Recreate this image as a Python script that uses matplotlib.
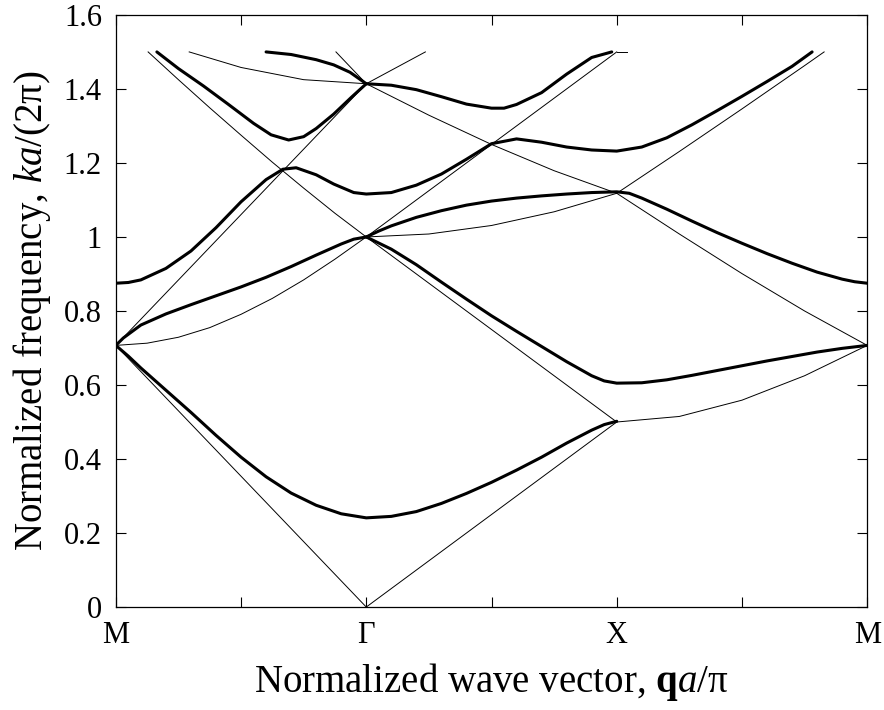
import matplotlib
matplotlib.use("Agg")
import matplotlib.pyplot as plt

plt.rcParams['font.family'] = ['Liberation Serif', 'DejaVu Serif']
plt.rcParams['mathtext.fontset'] = 'custom'
plt.rcParams['mathtext.rm'] = 'Liberation Serif'
plt.rcParams['mathtext.it'] = 'Liberation Serif:italic'
plt.rcParams['mathtext.bf'] = 'Liberation Serif:bold'

# path position: M=0, Gamma=1, X=2, M=3
tick_pos = [0, 0.5, 1, 1.5, 2, 2.5, 3]
tick_labels = ['M', '', 'Γ', '', 'X', '', 'M']

# thin lines (empty lattice)
thin_lines = [
    ([0, 1], [0.707, 0.0]),
    ([0, 0.125, 0.25, 0.375, 0.5, 0.625, 0.75, 0.875, 1],
     [0.707, 0.713, 0.729, 0.755, 0.791, 0.834, 0.884, 0.94, 1.0]),
    ([0, 1], [0.707, 1.414]),
    ([0.129, 0.25, 0.375, 0.5, 0.625, 0.75, 0.875, 1],
     [1.5, 1.425, 1.349, 1.275, 1.202, 1.132, 1.064, 1.0]),
    ([0.293, 0.5, 0.75, 1], [1.5, 1.458, 1.425, 1.414]),
    ([0.879, 1], [1.5, 1.414]),
    ([1, 2], [0.0, 0.5]),
    ([1, 2], [1.0, 0.5]),
    ([1, 1.25, 1.5, 1.75, 2], [1.0, 1.008, 1.031, 1.068, 1.118]),
    ([1, 1.25, 1.5, 1.75, 2], [1.414, 1.329, 1.25, 1.179, 1.118]),
    ([1, 2], [1.0, 1.5]),
    ([1, 1.236], [1.414, 1.5]),
    ([2, 2.04], [1.5, 1.5]),
    ([2, 2.25, 2.5, 2.75, 3], [0.5, 0.515, 0.559, 0.625, 0.707]),
    ([2, 2.25, 2.5, 2.75, 3], [1.118, 1.008, 0.901, 0.8, 0.707]),
    ([2, 2.25, 2.5, 2.75, 2.828], [1.118, 1.231, 1.346, 1.463, 1.5]),
]

# thick lines (bands)
band1_x = [0, 0.05, 0.1, 0.2, 0.3, 0.4, 0.5, 0.6, 0.7, 0.8, 0.9, 1.0,
           1.1, 1.2, 1.3, 1.4, 1.5, 1.6, 1.7, 1.8, 1.9, 1.95, 2.0]
band1_y = [0.707, 0.678, 0.646, 0.586, 0.526, 0.464, 0.405, 0.352, 0.308,
           0.275, 0.252, 0.241, 0.245, 0.258, 0.28, 0.307, 0.337, 0.37,
           0.405, 0.443, 0.478, 0.493, 0.502]
band2_x = [0, 0.03, 0.1, 0.2, 0.3, 0.4, 0.5, 0.6, 0.7, 0.8, 0.9, 0.95, 1.0]
band2_y = [0.707, 0.727, 0.762, 0.792, 0.817, 0.841, 0.865, 0.891, 0.92,
           0.951, 0.981, 0.994, 1.0]
band3_x = [0, 0.05, 0.1, 0.2, 0.3, 0.4, 0.5, 0.6, 0.667, 0.72, 0.8, 0.87,
           0.95, 1.0, 1.1, 1.2, 1.3, 1.4, 1.5, 1.6, 1.7, 1.8, 1.9, 2.0,
           2.1, 2.2, 2.3, 2.4, 2.5, 2.6, 2.7, 2.78]
band3_y = [0.875, 0.877, 0.884, 0.915, 0.962, 1.025, 1.095, 1.155, 1.183,
           1.187, 1.168, 1.143, 1.12, 1.116, 1.12, 1.14, 1.17, 1.21, 1.252,
           1.265, 1.256, 1.243, 1.235, 1.232, 1.243, 1.268, 1.303, 1.341,
           1.38, 1.42, 1.461, 1.5]
band4_x = [0.164, 0.25, 0.35, 0.45, 0.55, 0.62, 0.69, 0.75, 0.8, 0.87,
           0.94, 1.0]
band4_y = [1.5, 1.455, 1.408, 1.358, 1.307, 1.276, 1.262, 1.271, 1.293,
           1.332, 1.377, 1.414]
band5_x = [0.6, 0.7, 0.8, 0.87, 0.935, 1.0]
band5_y = [1.5, 1.493, 1.479, 1.465, 1.445, 1.414]
bandB_x = [1.0, 1.1, 1.2, 1.3, 1.4, 1.5, 1.6, 1.7, 1.8, 1.9, 1.95, 2.0,
           2.1, 2.2, 2.3, 2.4, 2.5, 2.6, 2.7, 2.8, 2.9, 3.0]
bandB_y = [1.0, 0.967, 0.925, 0.878, 0.832, 0.787, 0.745, 0.704, 0.663,
           0.625, 0.611, 0.605, 0.606, 0.614, 0.626, 0.639, 0.652, 0.665,
           0.677, 0.689, 0.699, 0.707]
bandC_x = [1.0, 1.05, 1.1, 1.2, 1.3, 1.4, 1.5, 1.6, 1.7, 1.8, 1.9, 2.0,
           2.05, 2.1, 2.2, 2.3, 2.4, 2.5, 2.6, 2.7, 2.8, 2.9, 2.95, 3.0]
bandC_y = [1.0, 1.016, 1.03, 1.053, 1.071, 1.086, 1.097, 1.105, 1.111,
           1.116, 1.12, 1.122, 1.118, 1.105, 1.075, 1.043, 1.012, 0.983,
           0.955, 0.929, 0.905, 0.886, 0.879, 0.875]
bandE_x = [1.0, 1.1, 1.2, 1.3, 1.4, 1.5, 1.55, 1.6, 1.7, 1.8, 1.9, 1.98]
bandE_y = [1.414, 1.41, 1.398, 1.379, 1.359, 1.348, 1.348, 1.358, 1.39,
           1.44, 1.485, 1.5]

thick_bands = [(band1_x, band1_y), (band2_x, band2_y), (band3_x, band3_y),
               (band4_x, band4_y), (band5_x, band5_y), (bandB_x, bandB_y),
               (bandC_x, bandC_y), (bandE_x, bandE_y)]

fig = plt.figure(figsize=(8.84, 7.10), dpi=100)
ax = fig.add_axes([0.131, 0.145, 0.85, 0.834])

for xs, ys in thin_lines:
    ax.plot(xs, ys, 'k-', lw=0.7)
for xs, ys in thick_bands:
    ax.plot(xs, ys, 'k-', lw=2.2, solid_capstyle='round',
            solid_joinstyle='round')

ax.set_xlim(0, 3)
ax.set_ylim(0, 1.6)
ax.set_xticks(tick_pos)
ax.set_xticklabels(tick_labels)
ax.set_yticks([0, 0.2, 0.4, 0.6, 0.8, 1.0, 1.2, 1.4, 1.6])
ax.set_yticklabels(['0', '0.2', '0.4', '0.6', '0.8', '1', '1.2', '1.4', '1.6'])
ax.tick_params(direction='in', top=True, right=True, length=7, width=0.8,
               labelsize=22, pad=10)
for s in ax.spines.values():
    s.set_linewidth(0.9)

ax.set_xlabel('Normalized wave vector, $\\mathbf{q}\\mathit{a}$/π',
              fontsize=28, labelpad=8)
ax.set_ylabel('Normalized frequency, $\\mathit{ka}$/(2π)', fontsize=28,
              labelpad=8)

fig.savefig('out.png', dpi=100)
